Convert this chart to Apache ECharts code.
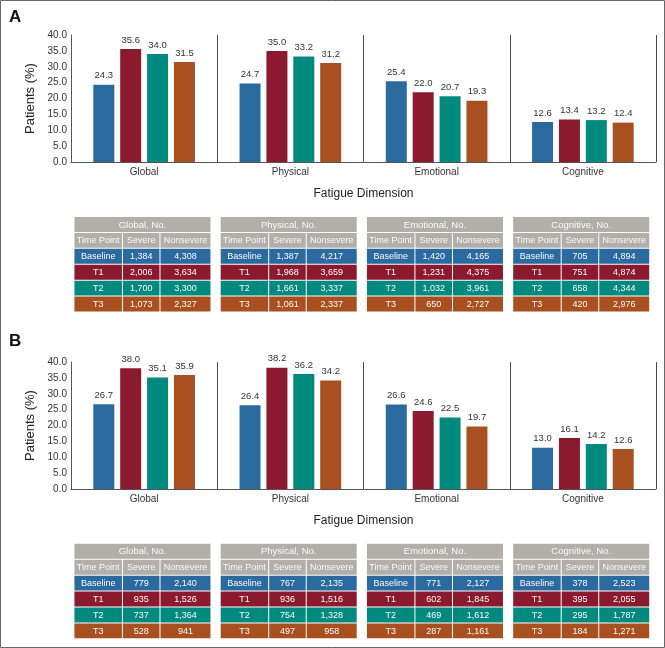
<!DOCTYPE html>
<html>
<head>
<meta charset="utf-8">
<script src="https://cdn.jsdelivr.net/npm/echarts@6.0.0/dist/echarts.min.js"></script>
<style>
  html, body { margin: 0; padding: 0; background: #fff; }
  #chart { width: 665px; height: 648px; }
</style>
</head>
<body>
<div id="chart"></div>
<script>
const dimensions = ['Global', 'Physical', 'Emotional', 'Cognitive'];
const timePoints = ['Baseline', 'T1', 'T2', 'T3'];
const colHeaders = ['Time Point', 'Severe', 'Nonsevere'];
const yTicks = [0, 5, 10, 15, 20, 25, 30, 35, 40];

// panel A: patients (%) with severe fatigue, by time point
const pctA_Baseline = [24.3, 24.7, 25.4, 12.6];
const pctA_T1 = [35.6, 35.0, 22.0, 13.4];
const pctA_T2 = [34.0, 33.2, 20.7, 13.2];
const pctA_T3 = [31.5, 31.2, 19.3, 12.4];

// panel B
const pctB_Baseline = [26.7, 26.4, 26.6, 13.0];
const pctB_T1 = [38.0, 38.2, 24.6, 16.1];
const pctB_T2 = [35.1, 36.2, 22.5, 14.2];
const pctB_T3 = [35.9, 34.2, 19.7, 12.6];

// table counts, rows = time point, cols = dimension
const severeA = [[1384, 1387, 1420, 705], [2006, 1968, 1231, 751], [1700, 1661, 1032, 658], [1073, 1061, 650, 420]];
const nonsevereA = [[4308, 4217, 4165, 4894], [3634, 3659, 4375, 4874], [3300, 3337, 3961, 4344], [2327, 2337, 2727, 2976]];
const severeB = [[779, 767, 771, 378], [935, 936, 602, 395], [737, 754, 469, 295], [528, 497, 287, 184]];
const nonsevereB = [[2140, 2135, 2127, 2523], [1526, 1516, 1845, 2055], [1364, 1328, 1612, 1787], [941, 958, 1161, 1271]];

const colors = ['#2a6a9e', '#8c1a2e', '#00897f', '#a8501f'];
const headGray = '#b2aeaa';
const font = '"Liberation Sans", Arial, sans-serif';

// the tables use a narrow face; fall back to a smaller regular one if it's missing
let tableFont = font, tableSize = 9, tableHeadSize = 9.5;
(function () {
  const ctx = document.createElement('canvas').getContext('2d');
  ctx.font = '10px monospace';
  const a = ctx.measureText('Nonsevere Time').width;
  ctx.font = '10px "Liberation Sans Narrow", monospace';
  const b = ctx.measureText('Nonsevere Time').width;
  if (Math.abs(a - b) > 0.5) {
    tableFont = '"Liberation Sans Narrow", "Liberation Sans", sans-serif';
    tableSize = 10.5; tableHeadSize = 11;
  }
})();

const chart = echarts.init(document.getElementById('chart'));

function barGrid(top) {
  return { left: 71, width: 585, top: top, height: 127, containLabel: false, outerBoundsMode: 'none' };
}
function tableGrid(top) {
  return { left: 71, width: 585, top: top, height: 95.5, containLabel: false, outerBoundsMode: 'none' };
}

function catAxis(idx) {
  return {
    type: 'category', gridIndex: idx, data: dimensions,
    name: 'Fatigue Dimension', nameLocation: 'middle', nameGap: 26,
    nameTextStyle: { fontSize: 12, color: '#222', fontFamily: font },
    axisLine: { lineStyle: { color: '#555', width: 1 } },
    axisTick: { show: false },
    axisLabel: { fontSize: 10, color: '#333', margin: 5, fontFamily: font },
    splitLine: { show: true, interval: 0, lineStyle: { color: '#4a4a4a', width: 1 } }
  };
}
function valAxis(idx) {
  return {
    type: 'value', gridIndex: idx, min: yTicks[0], max: yTicks[yTicks.length - 1], interval: 5,
    name: 'Patients (%)', nameLocation: 'middle', nameGap: 32,
    nameTextStyle: { fontSize: 13, color: '#222', fontFamily: font },
    axisLine: { show: true, lineStyle: { color: '#555', width: 1 } },
    axisTick: { show: false },
    splitLine: { show: false },
    axisLabel: { fontSize: 10, color: '#333', margin: 4, fontFamily: font, formatter: v => v.toFixed(1) }
  };
}

function bars(idx, lists) {
  return lists.map((vals, i) => ({
    type: 'bar', name: timePoints[i], xAxisIndex: idx, yAxisIndex: idx,
    data: vals, barWidth: 21, barGap: '28%',
    itemStyle: { color: colors[i] },
    label: {
      show: true, position: 'top', distance: 4, fontSize: 9.5, color: '#333', fontFamily: font,
      formatter: p => p.value.toFixed(1)
    },
    silent: true
  }));
}

function fmt(n) { return n.toLocaleString('en-US'); }

function tableSeries(idx, severe, nonsevere) {
  const items = [];
  for (let t = 0; t < dimensions.length; t++) {
    for (let r = 0; r < 6; r++) items.push([t, r]);
  }
  const colFrac = [0.354, 0.274, 0.372];
  return {
    type: 'custom', xAxisIndex: idx, yAxisIndex: idx, silent: true, data: items,
    renderItem: function (params, api) {
      const t = api.value(0), r = api.value(1);
      const unit = api.size([1, 0])[0];
      const rowH = api.size([0, 1])[1];
      const c = api.coord([t, r]);
      const x0 = c[0] + unit * 0.02;
      const w = unit * 0.937;
      const y0 = c[1] - rowH / 2;
      const children = [];
      function cell(x, cw, fill, txt, size) {
        children.push({
          type: 'rect',
          shape: { x: x + 0.5, y: y0 + 0.5, width: cw - 1, height: rowH - 1 },
          style: { fill: fill }
        });
        children.push({
          type: 'text',
          style: {
            text: txt, x: x + cw / 2, y: y0 + rowH / 2 + 0.5,
            align: 'center', verticalAlign: 'middle',
            fill: '#fafafa', fontSize: size, fontFamily: tableFont
          }
        });
      }
      if (r === 0) {
        cell(x0, w, headGray, dimensions[t] + ', No.', tableHeadSize);
      } else {
        let x = x0;
        for (let k = 0; k < 3; k++) {
          const cw = w * colFrac[k];
          let fill, txt;
          if (r === 1) {
            fill = headGray; txt = colHeaders[k];
          } else {
            const tp = r - 2;
            fill = colors[tp];
            txt = k === 0 ? timePoints[tp] : k === 1 ? fmt(severe[tp][t]) : fmt(nonsevere[tp][t]);
          }
          cell(x, cw, fill, txt, tableSize);
          x += cw;
        }
      }
      return { type: 'group', children: children };
    }
  };
}

function hiddenX(idx) { return { type: 'value', gridIndex: idx, min: 0, max: 4, show: false }; }
function hiddenY(idx) { return { type: 'category', gridIndex: idx, data: ['0', '1', '2', '3', '4', '5'], inverse: true, show: false }; }

const option = {
  animation: false,
  backgroundColor: '#fff',
  grid: [barGrid(35), barGrid(362), tableGrid(216.5), tableGrid(543.3)],
  xAxis: [catAxis(0), catAxis(1), hiddenX(2), hiddenX(3)],
  yAxis: [valAxis(0), valAxis(1), hiddenY(2), hiddenY(3)],
  series: [
    ...bars(0, [pctA_Baseline, pctA_T1, pctA_T2, pctA_T3]),
    ...bars(1, [pctB_Baseline, pctB_T1, pctB_T2, pctB_T3]),
    tableSeries(2, severeA, nonsevereA),
    tableSeries(3, severeB, nonsevereB)
  ],
  graphic: [
    { type: 'rect', shape: { x: 0.5, y: 0.5, width: 664, height: 647 }, style: { fill: 'none', stroke: '#666', lineWidth: 1 }, silent: true },
    { type: 'text', left: 9, top: 9, style: { text: 'A', fontSize: 17, fontWeight: 'bold', fill: '#111', fontFamily: font } },
    { type: 'text', left: 9, top: 333, style: { text: 'B', fontSize: 17, fontWeight: 'bold', fill: '#111', fontFamily: font } }
  ]
};

chart.setOption(option);
</script>
</body>
</html>
